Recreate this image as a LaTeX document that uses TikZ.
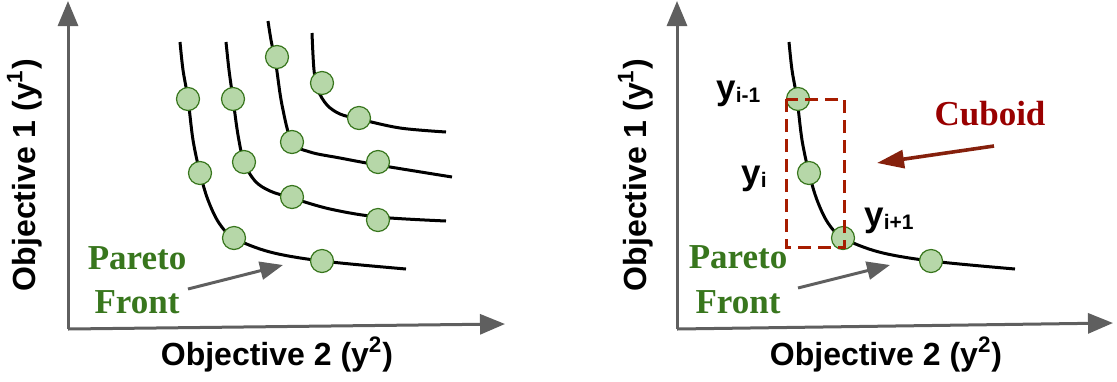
\documentclass[tikz,border=0pt]{standalone}
\usepackage{fontspec}
\setmainfont{Liberation Serif}
\setsansfont{Liberation Sans}
\usetikzlibrary{arrows.meta}
\definecolor{axisgray}{HTML}{5F5F5F}
\definecolor{ptgreen}{HTML}{38761D}
\definecolor{dotfill}{HTML}{B6D7A8}
\definecolor{boxred}{HTML}{A61C00}
\definecolor{cubred}{HTML}{990000}
\definecolor{arrred}{HTML}{85200C}
\tikzset{
  axisline/.style={draw=axisgray, line width=1.5pt, -{Triangle[length=12.5pt,width=10pt]}},
  front/.style={draw=black, line width=1.5pt, smooth, tension=0.55},
  dot/.style={circle, minimum size=11.5pt, inner sep=0pt, fill=dotfill, draw=ptgreen, line width=0.6pt},
  ptext/.style={font=\fontsize{17.5pt}{20pt}\selectfont\bfseries, text=ptgreen, anchor=base, inner sep=0pt},
  axlabel/.style={font=\fontsize{16pt}{18pt}\selectfont\sffamily\bfseries, anchor=base, inner sep=0pt},
  ylab/.style={font=\sffamily\bfseries, anchor=base west, inner sep=0pt},
  grayarrow/.style={draw=axisgray, line width=1.5pt, -{Triangle[length=11.5pt,width=9pt]}},
  cubarrow/.style={draw=arrred, line width=1.8pt, -{Triangle[length=13.5pt,width=9pt]}},
  cuboidbox/.style={draw=boxred, line width=1.5pt, dash pattern=on 6.5pt off 3.5pt},
}
\newcommand{\bigy}{{\fontsize{17.5pt}{20pt}\selectfont y}}
\newcommand{\subtxt}[1]{\raisebox{-1.5pt}{\fontsize{10.5pt}{12pt}\selectfont #1}}
\begin{document}
\begin{tikzpicture}[x=0.5pt,y=-0.5pt]
\useasboundingbox (0,0) rectangle (1117,381);
% ---------------- left panel ----------------
\coordinate (Lo) at (68,329);
\coordinate (Ly) at (68,1);
\coordinate (Lx) at (505,324);
\draw[axisline] (Lo) -- (Ly);
\draw[axisline] (Lo) -- (Lx);
\node[axlabel] (Lxl) at (277,365) {Objective 2 (y\textsuperscript{2})};
\node[axlabel, rotate=90] (Lyl) at (35,175) {Objective 1 (y\textsuperscript{1})};
\draw[front] plot coordinates {(180,42) (183,70) (188,99) (193,140) (200,173) (208,200) (219,223) (234,238) (270,252) (322,261) (406,269)};
\draw[front] plot coordinates {(226,42) (229,70) (233,99) (238,135) (244,162) (255,181) (270,191) (292,198) (330,209) (378,217) (446,221)};
\draw[front] plot coordinates {(268,21) (271,40) (276,65) (282,105) (292,142) (310,152) (340,158) (378,165) (452,177)};
\draw[front] plot coordinates {(312,33) (314,70) (318,90) (327,105) (340,114) (359,119) (400,128) (446,132)};
\node[dot] (La1) at (188,99) {};
\node[dot] (La2) at (200,173) {};
\node[dot] (La3) at (234,238) {};
\node[dot] (La4) at (322,261) {};
\node[dot] (Lb1) at (233,99) {};
\node[dot] (Lb2) at (244,162) {};
\node[dot] (Lb3) at (292,197) {};
\node[dot] (Lb4) at (378,220) {};
\node[dot] (Lc1) at (277,57) {};
\node[dot] (Lc2) at (292,142) {};
\node[dot] (Lc3) at (378,162) {};
\node[dot] (Ld1) at (322,83) {};
\node[dot] (Ld2) at (359,118) {};
\node[ptext] (Lp) at (137,269) {Pareto};
\node[ptext] (Lf) at (137,313) {Front};
\coordinate (Lat) at (188,289);
\coordinate (Lah) at (283,265);
\draw[grayarrow] (Lat) -- (Lah);
% ---------------- right panel ----------------
\begin{scope}[xshift=304.5pt]
\coordinate (Ro) at (68,329);
\coordinate (Ry) at (68,1);
\coordinate (Rx) at (504,323);
\draw[axisline] (Ro) -- (Ry);
\draw[axisline] (Ro) -- (Rx);
\node[axlabel] (Rxl) at (277,365) {Objective 2 (y\textsuperscript{2})};
\node[axlabel, rotate=90] (Ryl) at (37,175) {Objective 1 (y\textsuperscript{1})};
\draw[front] plot coordinates {(180,42) (183,70) (188,99) (193,140) (200,173) (208,200) (219,223) (234,238) (270,252) (322,261) (406,269)};
\node[dot] (Ra1) at (189,99) {};
\node[dot] (Ra2) at (200,173) {};
\node[dot] (Ra3) at (234,238) {};
\node[dot] (Ra4) at (322,261) {};
\draw[cuboidbox] (177,99) rectangle (235,247);
\node[ylab] (Rl1) at (107,99) {\bigy\subtxt{i-1}};
\node[ylab] (Rl2) at (132,184) {\bigy\subtxt{i}};
\node[ylab] (Rl3) at (255,226) {\bigy\subtxt{i+1}};
\node[ptext, text=cubred] (Rcub) at (381,125) {Cuboid};
\coordinate (Rct) at (385,146);
\coordinate (Rch) at (268,163);
\draw[cubarrow] (Rct) -- (Rch);
\node[ptext] (Rp) at (129,268) {Pareto};
\node[ptext] (Rf) at (129,313) {Front};
\coordinate (Rat) at (189,288);
\coordinate (Rah) at (281,265);
\draw[grayarrow] (Rat) -- (Rah);
\end{scope}
\end{tikzpicture}
\end{document}
